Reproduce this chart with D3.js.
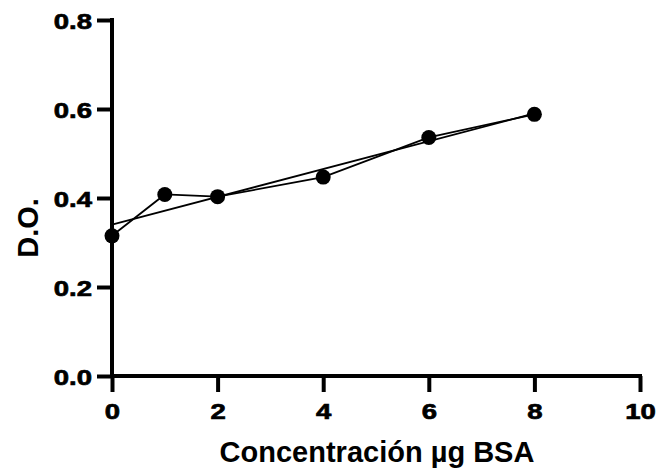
<!DOCTYPE html>
<html>
<head>
<meta charset="utf-8">
<script src="https://cdn.jsdelivr.net/npm/d3@7"></script>
<style>
  body { margin: 0; background: #fff; }
  text { font-family: "Liberation Sans", Arial, sans-serif; }
  .axis path, .axis line { stroke: #000; stroke-width: 4px; }
</style>
</head>
<body>
<div id="chart"></div>
<script>
// data
const concentracion = [0, 1, 2, 4, 6, 8];
const densidadOptica = [0.315, 0.408, 0.403, 0.447, 0.536, 0.588];
// fitted straight line, endpoints as drawn
const ajusteX = [0, 8];
const ajusteY = [0.34, 0.59];
const xTicks = [0, 2, 4, 6, 8, 10];
const yTicks = [0.0, 0.2, 0.4, 0.6, 0.8];

const width = 662, height = 474;
const margin = { top: 20, right: 22, bottom: 98, left: 112 };
const stretch = 1.25; // tick labels look wide

const svg = d3.select("#chart").append("svg")
    .attr("width", width)
    .attr("height", height);

const x = d3.scaleLinear().domain([0, 10]).range([margin.left, width - margin.right]);
const y = d3.scaleLinear().domain([0, 0.8]).range([height - margin.bottom, margin.top]);

const points = concentracion.map((c, i) => ({ x: c, y: densidadOptica[i] }));
const fit = ajusteX.map((c, i) => ({ x: c, y: ajusteY[i] }));

const line = d3.line().x(d => x(d.x)).y(d => y(d.y));

// axes
const xAxis = svg.append("g")
    .attr("class", "axis")
    .attr("transform", `translate(0,${y(0)})`)
    .call(d3.axisBottom(x).tickValues(xTicks).tickSize(16).tickFormat(d3.format("d")));

const yAxis = svg.append("g")
    .attr("class", "axis")
    .attr("transform", `translate(${x(0)},0)`)
    .call(d3.axisLeft(y).tickValues(yTicks).tickSize(15).tickFormat(d3.format(".1f")));

[xAxis, yAxis].forEach(g => {
    g.selectAll(".tick text")
        .attr("fill", "#000")
        .attr("stroke", "#000")
        .attr("stroke-width", 0.7)
        .style("font-size", "22px")
        .style("font-weight", "bold");
});
// domain without outer ticks
xAxis.select(".domain").attr("d", `M${x(0) - 2},0H${x(10) + 2}`);
yAxis.select(".domain").attr("d", `M0,${y(0) + 2}V${y(0.8) - 2}`);

// widen the tick labels a little, keep their anchor point
xAxis.selectAll(".tick text")
    .attr("x", 0).attr("y", 0).attr("dy", null)
    .attr("transform", `translate(0,43) scale(${stretch},1)`);
yAxis.selectAll(".tick text")
    .attr("x", 0).attr("dy", null)
    .attr("transform", `translate(-20,8) scale(${stretch},1)`);

// regression line
svg.append("path")
    .datum(fit)
    .attr("fill", "none")
    .attr("stroke", "#000")
    .attr("stroke-width", 1.8)
    .attr("d", line);

// data line
svg.append("path")
    .datum(points)
    .attr("fill", "none")
    .attr("stroke", "#000")
    .attr("stroke-width", 1.8)
    .attr("d", line);

svg.append("g").selectAll("circle")
    .data(points)
    .join("circle")
    .attr("cx", d => x(d.x))
    .attr("cy", d => y(d.y))
    .attr("r", 7.5)
    .attr("fill", "#000");

// axis titles
svg.append("text")
    .attr("x", 377)
    .attr("y", 462)
    .attr("text-anchor", "middle")
    .style("font-size", "29px")
    .style("font-weight", "bold")
    .text("Concentración µg BSA");

svg.append("text")
    .attr("transform", `translate(38,228) rotate(-90)`)
    .attr("text-anchor", "middle")
    .style("font-size", "29px")
    .style("font-weight", "bold")
    .text("D.O.");
</script>
</body>
</html>
